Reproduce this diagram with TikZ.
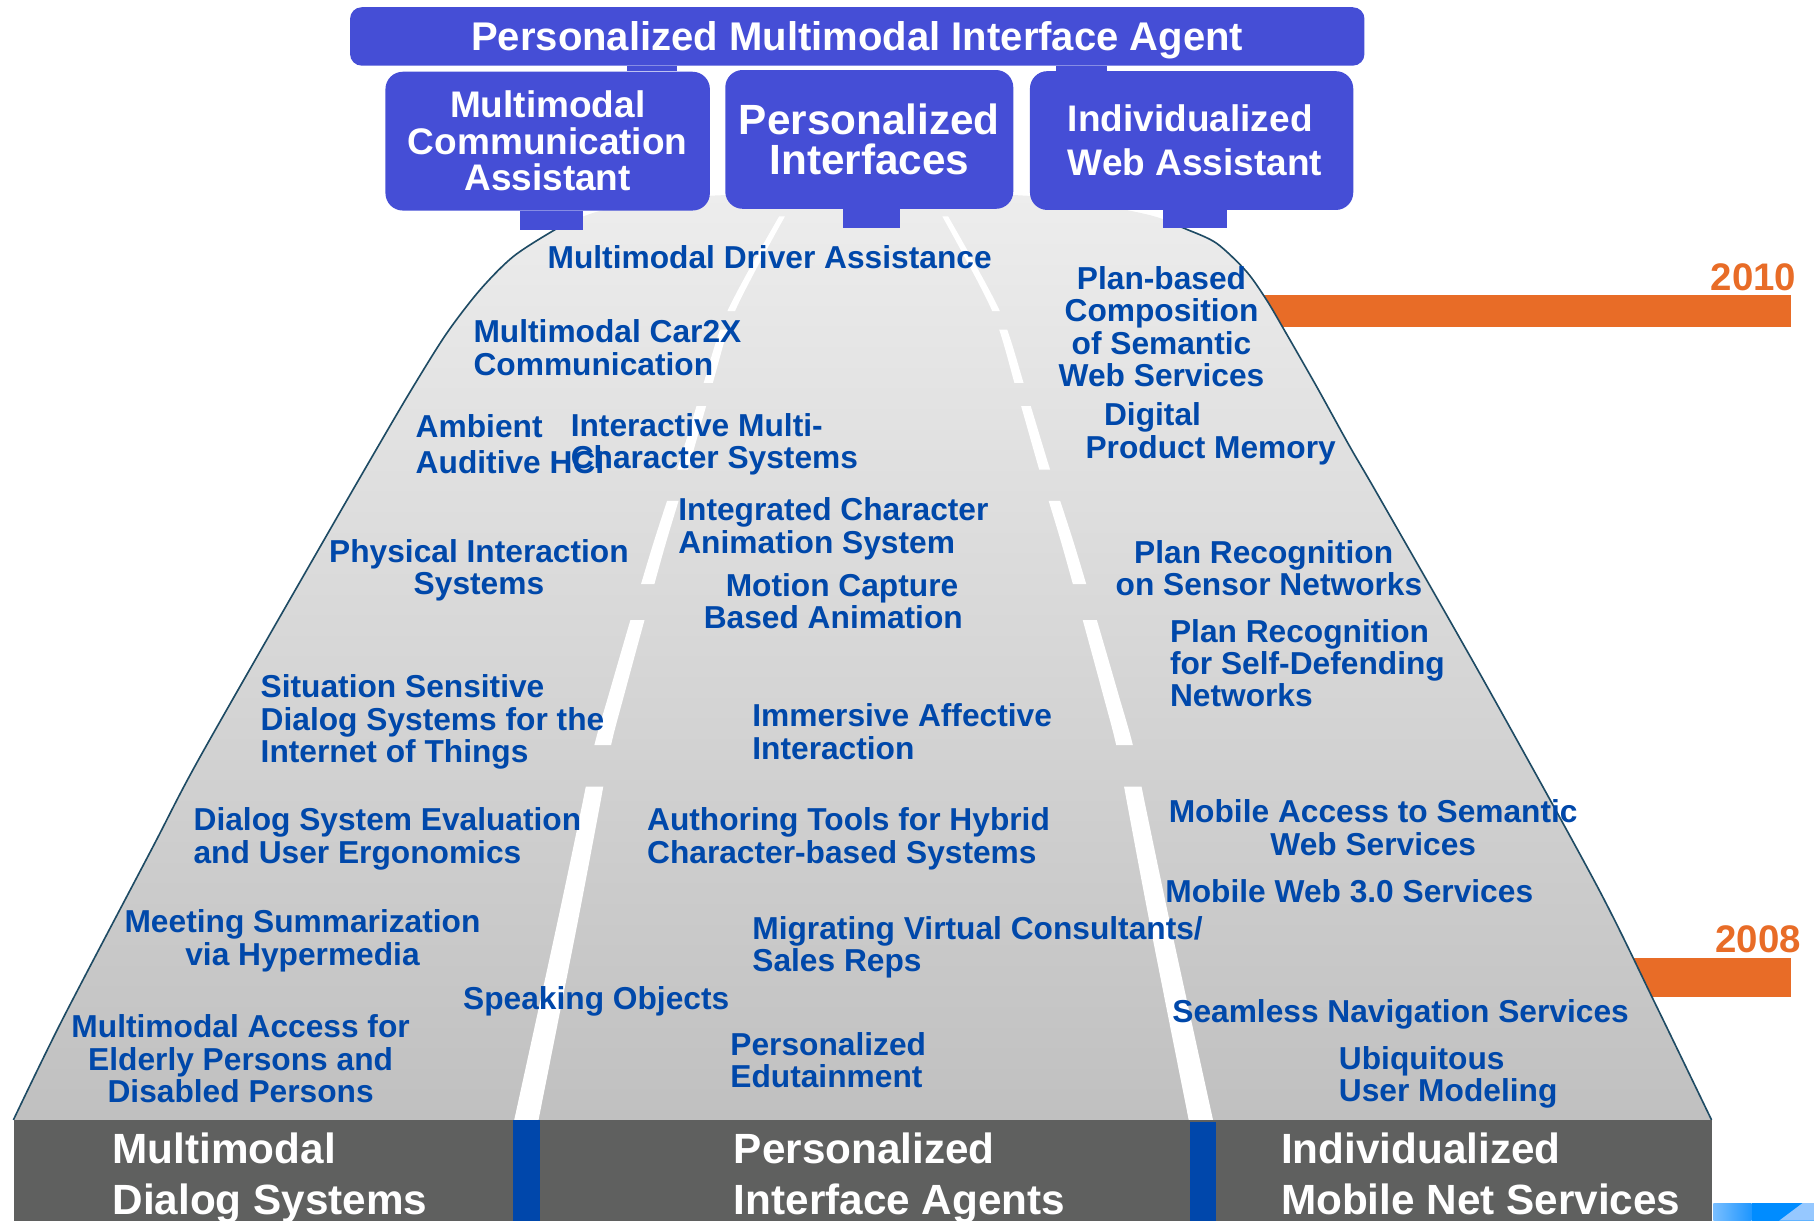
\documentclass[tikz,border=0pt]{standalone}
\usepackage{fontspec}
\setmainfont{Liberation Sans}
\definecolor{boxblue}{RGB}{69,78,214}
\definecolor{txtblue}{RGB}{0,72,170}
\definecolor{laneblue}{RGB}{0,71,171}
\definecolor{bargray}{RGB}{95,96,95}
\definecolor{yearorange}{RGB}{232,108,39}
\definecolor{rimteal}{RGB}{30,75,100}
\definecolor{roadtop}{RGB}{237,237,237}
\definecolor{roadbottom}{RGB}{192,192,192}
\definecolor{logolight}{RGB}{120,190,255}
\definecolor{logomid}{RGB}{30,150,255}
\definecolor{logoblue}{RGB}{0,140,255}
\definecolor{logopale}{RGB}{150,200,255}
\begin{document}
\begin{tikzpicture}[x=0.02cm,y=-0.02cm,
    lbl/.style={text=txtblue,font=\fontsize{15.6}{15.9}\selectfont\bfseries,inner sep=0pt,align=left,anchor=north west},
    lblc/.style={lbl,align=center,anchor=north},
    boxnode/.style={fill=boxblue,rounded corners=0.3cm,text=white,inner sep=0pt,minimum height=2.4cm,align=center},
    bartxt/.style={text=white,font=\fontsize{20.8}{25}\selectfont\bfseries,inner sep=0pt,align=left,anchor=north west},
    yearlbl/.style={text=yearorange,font=\fontsize{18.9}{20}\selectfont\bfseries,inner sep=0pt,anchor=east},
    tab/.style={boxblue,line width=#1},
    rim/.style={rimteal,line width=0.8pt}]
  \useasboundingbox (0,0) rectangle (1568,1055);
  \fill[yearorange] (1050,255) rectangle (1548,283);
  \fill[yearorange] (1390,828) rectangle (1548,862);
  \node[yearlbl] (y2010) at (1553,240) {2010};
  \node[yearlbl] (y2008) at (1557,812) {2008};
  \shade[top color=roadtop,bottom color=roadbottom] plot[smooth] coordinates {(11.6,968) (54.6,880) (130.8,734.6) (172.9,654.3) (276.6,472.8) (328.4,383.1) (357.2,334.2) (386.1,288.1) (414.9,250.6) (443.6,221.8) (478.2,199.4) (520,182) (600,170) (750,166) (900,170) (990,185) (1025.7,198.2) (1051.6,210.3) (1077.5,234.8) (1094.8,259.3) (1109.2,283.7) (1138.1,334.2) (1166.8,386.1) (1192.7,430.7) (1283.5,590) (1380,765) (1430,866) (1479.4,968)} -- cycle;
  \draw[rim] plot[smooth] coordinates {(11.6,968) (54.6,880) (130.8,734.6) (172.9,654.3) (276.6,472.8) (328.4,383.1) (357.2,334.2) (386.1,288.1) (414.9,250.6) (443.6,221.8) (478.2,199.4) (492,193)};
  \draw[rim] plot[smooth] coordinates {(1012,193) (1025.7,198.2) (1051.6,210.3) (1077.5,234.8) (1094.8,259.3) (1109.2,283.7) (1138.1,334.2) (1166.8,386.1) (1192.7,430.7) (1283.5,590) (1380,765) (1430,866) (1479.4,968)};
  \begin{scope}
    \clip (0,187) rectangle (1568,269) (0,285) rectangle (1568,331) (0,351) rectangle (1568,406)
      (0,433) rectangle (1568,505) (0,536) rectangle (1568,644) (0,680) rectangle (1568,970);
    \fill[white] plot[smooth] coordinates {(673.5,187) (628.7,269) (607.0,335) (585.3,406) (564.6,470) (544.9,536) (526.3,600) (513.8,644) (502.3,700) (481.2,800) (444.5,968)}
      -- plot[smooth] coordinates {(465.5,968) (498.8,800) (517.8,700) (528.2,644) (539.7,600) (557.1,536) (575.4,470) (594.7,406) (615.0,335) (635.3,269) (678.5,187)} -- cycle;
    \fill[white] plot[smooth] coordinates {(814.5,187) (857.7,269) (878.0,335) (898.3,406) (917.6,470) (935.9,536) (953.3,600) (964.8,644) (975.3,700) (994.2,800) (1027.5,968)}
      -- plot[smooth] coordinates {(1048.5,968) (1011.8,800) (990.8,700) (979.2,644) (966.7,600) (948.1,536) (928.4,470) (907.7,406) (886.0,335) (864.3,269) (819.5,187)} -- cycle;
  \end{scope}
  \fill[bargray] (12,968) rectangle (1479.4,1055);
  \fill[laneblue] (443.5,968) rectangle (467,1055);
  \fill[laneblue] (1028.5,970) rectangle (1051.5,1055);
  \shade[left color=logolight,right color=logomid] (1481,1040) rectangle (1514,1055);
  \fill[logoblue] (1514,1040) rectangle (1568,1055);
  \fill[logopale] (1538,1055) -- (1558,1040) -- (1568,1040) -- (1568,1055) -- cycle;
  \node[bartxt] (mds) at (97,979) {Multimodal\\Dialog Systems};
  \node[bartxt] (pia) at (634,979) {Personalized\\Interface Agents};
  \node[bartxt] (ims) at (1107,979) {Individualized\\Mobile Net Services};
  \node[boxnode,minimum width=17.54cm,minimum height=1.01cm,rounded corners=0.2cm,text depth=0pt,font=\fontsize{19.7}{20}\selectfont\bfseries] (agent) at (741,31.5) {Personalized Multimodal Interface Agent};
  \node[boxnode,minimum width=5.61cm,font=\fontsize{18.2}{17.9}\selectfont\bfseries] (mca) at (473.4,122) {Multimodal\\Communication\\Assistant};
  \node[boxnode,minimum width=4.98cm,font=\fontsize{20.8}{19.9}\selectfont\bfseries] (pif) at (751.4,120.5) {Personalized\\Interfaces};
  \node[boxnode,minimum width=5.59cm,align=left,font=\fontsize{18.2}{21.6}\selectfont\bfseries] (iwa) at (1030,121.5) {\hspace*{0.12cm}Individualized\\\hspace*{0.12cm}Web Assistant};
  \draw[tab=0.866cm] (563.3,0 |- agent.south) -- (563.3,0 |- mca.north);
  \draw[tab=0.87cm] (934.8,0 |- agent.south) -- (934.8,0 |- iwa.north);
  \coordinate (mcafoot) at (476.8,198.8);
  \coordinate (piffoot) at (753.4,197.3);
  \coordinate (iwafoot) at (1032.9,197.3);
  \draw[tab=1.096cm] (mcafoot |- mca.south) -- (mcafoot);
  \draw[tab=0.98cm] (piffoot |- pif.south) -- (piffoot);
  \draw[tab=1.094cm] (iwafoot |- iwa.south) -- (iwafoot);
  \node[lbl] (mda) at (473,212) {Multimodal Driver Assistance};
  \node[lbl] (c2x) at (409,276) {Multimodal Car2X\\Communication};
  \node[lbl,font=\fontsize{15.6}{17.6}\selectfont\bfseries] (ahci) at (359,358) {Ambient\\Auditive HCI};
  \node[lbl] (imcs) at (493,357) {Interactive Multi-\\Character Systems};
  \node[lblc] (pbc) at (1004,230) {Plan-based\\Composition\\of Semantic\\Web Services};
  \node[lbl] (dpm) at (938,348) {\hspace*{0.32cm}Digital\\Product Memory};
  \node[lbl] (icas) at (586,430) {Integrated Character\\Animation System};
  \node[lblc] (pis) at (414,466) {Physical Interaction\\Systems};
  \node[lbl] (mcba) at (608,495) {\hspace*{0.38cm}Motion Capture\\Based Animation};
  \node[lbl] (prsn) at (964,467) {\hspace*{0.32cm}Plan Recognition\\on Sensor Networks};
  \node[lbl] (prsd) at (1011,535) {Plan Recognition\\for Self-Defending\\Networks};
  \node[lbl] (ssds) at (225,583) {Situation Sensitive\\Dialog Systems for the\\Internet of Things};
  \node[lbl] (iai) at (650,608) {Immersive Affective\\Interaction};
  \node[lbl] (dse) at (167,698) {Dialog System Evaluation\\and User Ergonomics};
  \node[lbl] (atcs) at (559,698) {Authoring Tools for Hybrid\\Character-based Systems};
  \node[lblc] (mas) at (1187,691) {Mobile Access to Semantic\\Web Services};
  \node[lbl] (mw3) at (1007,760) {Mobile Web 3.0 Services};
  \node[lblc] (msh) at (261.5,786) {Meeting Summarization\\via Hypermedia};
  \node[lbl] (mvc) at (650,792) {Migrating Virtual Consultants/\\Sales Reps};
  \node[lbl] (spo) at (400,852) {Speaking Objects};
  \node[lbl] (sns) at (1013,864) {Seamless Navigation Services};
  \node[lblc] (maep) at (208,877) {Multimodal Access for\\Elderly Persons and\\Disabled Persons};
  \node[lbl] (ped) at (631,892) {Personalized\\Edutainment};
  \node[lbl] (uum) at (1157,904) {Ubiquitous\\User Modeling};
\end{tikzpicture}
\end{document}
